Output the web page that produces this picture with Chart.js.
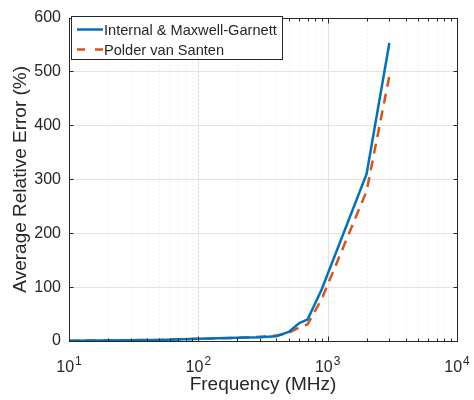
<!DOCTYPE html>
<html>
<head>
<meta charset="utf-8">
<script src="https://cdn.jsdelivr.net/npm/chart.js@4"></script>
<style>body{margin:0;background:#fff}</style>
</head>
<body>
<canvas id="errChart" width="474" height="400"></canvas>
<script>
// values
const freqMHz = [10, 50, 100, 200, 300, 400, 500, 600, 700, 900, 2000, 3000];
const internalMG = [0.5, 2, 4, 6, 7, 9, 17, 33, 40, 96, 310, 553];
const polderVS = [0.5, 2, 4, 6, 8, 10, 15, 25, 31, 78, 278, 492];
const seriesNames = ["Internal & Maxwell-Garnett", "Polder van Santen"];
const xMajor = [10, 100, 1000, 10000];
const xExponents = ["1", "2", "3", "4"];
const yTicks = [0, 100, 200, 300, 400, 500, 600];

const FONT = "'Liberation Sans', Arial, sans-serif";
const AXIS = "#262626";
const BLUE = "#0072BD";
const ORANGE = "#D95319";

const xMinor = [];
for (const d of [10, 100, 1000]) for (let k = 2; k <= 9; k++) xMinor.push(k * d);

const toPoints = ys => freqMHz.map((f, i) => ({ x: f, y: ys[i] }));

const matlabAxes = {
  id: "matlabAxes",
  beforeDatasetsDraw(chart) {
    const { ctx, chartArea: a, scales: { x, y } } = chart;
    ctx.save();
    ctx.lineWidth = 1;
    // minor x grid (dotted)
    ctx.strokeStyle = "#e4e4e4";
    ctx.setLineDash([1, 3]);
    for (const v of xMinor) {
      const px = Math.round(x.getPixelForValue(v)) + 0.5;
      ctx.beginPath(); ctx.moveTo(px, a.top); ctx.lineTo(px, a.bottom); ctx.stroke();
    }
    // major grid
    ctx.setLineDash([]);
    ctx.strokeStyle = "#e3e3e3";
    for (const v of xMajor) {
      const px = Math.round(x.getPixelForValue(v)) + 0.5;
      ctx.beginPath(); ctx.moveTo(px, a.top); ctx.lineTo(px, a.bottom); ctx.stroke();
    }
    for (const v of yTicks) {
      const py = Math.round(y.getPixelForValue(v)) + 0.5;
      ctx.beginPath(); ctx.moveTo(a.left, py); ctx.lineTo(a.right, py); ctx.stroke();
    }
    ctx.restore();
  },
  afterDatasetsDraw(chart) {
    const { ctx, chartArea: a, scales: { x, y } } = chart;
    ctx.save();
    ctx.strokeStyle = AXIS;
    ctx.lineWidth = 1;
    const L = Math.round(a.left) + 0.5, R = Math.round(a.right) + 0.5;
    const T = Math.round(a.top) + 0.5, B = Math.round(a.bottom) + 0.5;
    ctx.strokeRect(L, T, R - L, B - T);
    // inward ticks
    ctx.beginPath();
    const xt = (v, len) => {
      const px = Math.round(x.getPixelForValue(v)) + 0.5;
      ctx.moveTo(px, B); ctx.lineTo(px, B - len);
      ctx.moveTo(px, T); ctx.lineTo(px, T + len);
    };
    xMajor.forEach(v => xt(v, 5));
    xMinor.forEach(v => xt(v, 3));
    for (const v of yTicks) {
      const py = Math.round(y.getPixelForValue(v)) + 0.5;
      ctx.moveTo(L, py); ctx.lineTo(L + 4, py);
      ctx.moveTo(R, py); ctx.lineTo(R - 4, py);
    }
    ctx.stroke();

    // x tick labels 10^n
    ctx.fillStyle = AXIS;
    ctx.textBaseline = "alphabetic";
    ctx.textAlign = "left";
    xMajor.forEach((v, i) => {
      const px = x.getPixelForValue(v);
      ctx.font = "16px " + FONT;
      const wb = ctx.measureText("10").width;
      ctx.font = "12px " + FONT;
      const we = ctx.measureText(xExponents[i]).width;
      const x0 = px - (wb + 1 + we) / 2;
      ctx.font = "16px " + FONT;
      ctx.fillText("10", x0, 372);
      ctx.font = "12px " + FONT;
      ctx.fillText(xExponents[i], x0 + wb + 1, 365);
    });

    // legend
    const lx = 71.5, ly = 16.5, lw = 211, lh = 43;
    ctx.fillStyle = "#fff";
    ctx.fillRect(lx, ly, lw, lh);
    ctx.strokeStyle = AXIS;
    ctx.lineWidth = 1;
    ctx.strokeRect(lx, ly, lw, lh);
    const rows = [[BLUE, []], [ORANGE, [8, 10]]];
    ctx.font = "14.6px " + FONT;
    ctx.textBaseline = "middle";
    rows.forEach(([c, dash], i) => {
      const ry = 29.5 + i * 20;
      ctx.strokeStyle = c;
      ctx.lineWidth = 2.5;
      ctx.setLineDash(dash);
      ctx.beginPath(); ctx.moveTo(77, ry); ctx.lineTo(103, ry); ctx.stroke();
      ctx.setLineDash([]);
      ctx.fillStyle = AXIS;
      ctx.fillText(seriesNames[i], 104, ry + 1);
    });
    ctx.restore();
  }
};

new Chart(document.getElementById("errChart"), {
  type: "line",
  data: {
    datasets: [
      { label: seriesNames[0], data: toPoints(internalMG), borderColor: BLUE, borderWidth: 2.5, pointRadius: 0, tension: 0, fill: false },
      { label: seriesNames[1], data: toPoints(polderVS), borderColor: ORANGE, borderWidth: 2.5, borderDash: [10, 7], pointRadius: 0, tension: 0, fill: false }
    ]
  },
  options: {
    responsive: false,
    animation: false,
    layout: { padding: { left: 5, right: 17, top: 13, bottom: 0 } },
    plugins: { legend: { display: false }, tooltip: { enabled: false } },
    scales: {
      x: {
        type: "logarithmic",
        min: 10, max: 10000,
        grid: { display: false },
        border: { display: false },
        ticks: { display: false },
        title: { display: true, text: "Frequency (MHz)", color: AXIS, font: { family: FONT, size: 19 } },
        afterFit: s => { s.height = 59; }
      },
      y: {
        min: 0, max: 600,
        grid: { display: false, drawTicks: false },
        border: { display: false },
        ticks: { stepSize: 100, padding: 8, color: AXIS, font: { family: FONT, size: 16 } },
        title: { display: true, text: "Average Relative Error (%)", color: AXIS, font: { family: FONT, size: 19 } },
        afterFit: s => { s.width = 64; }
      }
    }
  },
  plugins: [matlabAxes]
});
</script>
</body>
</html>
